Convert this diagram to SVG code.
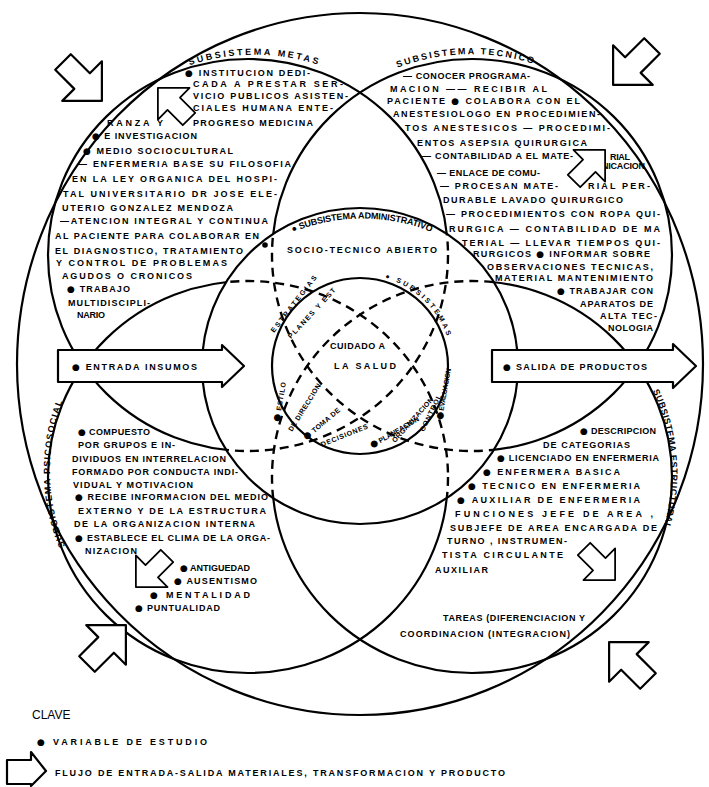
<svg xmlns="http://www.w3.org/2000/svg" width="709" height="787" viewBox="0 0 709 787">
<defs>
<style>
.ln{fill:none;stroke:#000;stroke-width:2.2}
.ds{fill:none;stroke:#000;stroke-width:2.4;stroke-dasharray:9 6}
.t{font-family:"Liberation Sans",Arial,sans-serif;font-weight:bold;font-size:9px;fill:#000}
.s{font-size:7px}
.b{font-family:"DejaVu Sans",sans-serif;font-size:9px}
.arw{fill:#fff;stroke:#000;stroke-width:2.2;stroke-linejoin:round}
</style>
<polygon id="ar" points="0,-11 27,-11 27,-28 55,0 27,28 27,11 0,11"/>
<clipPath id="inA"><circle cx="360" cy="366" r="158"/></clipPath>
<mask id="outA" maskUnits="userSpaceOnUse" x="0" y="0" width="709" height="787"><rect width="709" height="787" fill="#fff"/><circle cx="360" cy="366" r="158" fill="#000"/></mask>
<path id="pMetas" d="M 182,68 A 206 206 0 0 1 322,66"/>
<path id="pTec" d="M 392,70 A 206 206 0 0 1 540,66"/>
<path id="pPsi" d="M 66,548 A 204 199 0 0 1 66,393"/>
<path id="pEst" d="M 652,389 A 204 200 0 0 1 662,533"/>
<path id="pAdm" d="M 291,233 A 183 183 0 0 1 436,234"/>
<path id="pSub" d="M 385,278 A 92 92 0 0 1 448,339"/>
</defs>

<g id="environment">
<ellipse class="ln" cx="360" cy="364" rx="343" ry="351"/>
</g>

<g id="connectors">
<g mask="url(#outA)">
<ellipse class="ln" cx="248" cy="255" rx="200" ry="196"/>
<ellipse class="ln" cx="472" cy="255" rx="200" ry="196"/>
<ellipse class="ln" cx="248" cy="477" rx="200" ry="196"/>
<ellipse class="ln" cx="472" cy="477" rx="200" ry="196"/>
</g>
<g clip-path="url(#inA)">
<ellipse class="ds" cx="248" cy="255" rx="200" ry="196"/>
<ellipse class="ds" cx="472" cy="255" rx="200" ry="196"/>
<ellipse class="ds" cx="248" cy="477" rx="200" ry="196"/>
<ellipse class="ds" cx="472" cy="477" rx="200" ry="196"/>
</g>
</g>

<g id="administrativo">
<circle class="ln" cx="360" cy="366" r="158"/>
<text class="t" font-size="8"><textPath href="#pAdm" startOffset="2" textLength="142" lengthAdjust="spacing">● SUBSISTEMA  ADMINISTRATIVO</textPath></text>
<text class="t" font-size="8.5" x="287" y="253" textLength="150" lengthAdjust="spacing">SOCIO-TECNICO  ABIERTO</text>
<circle cx="265" cy="245" r="2.8"/>
</g>

<g id="cuidado">
<circle class="ln" cx="360" cy="366" r="88"/>
<text class="t" font-size="9.5" x="330" y="349" textLength="55" lengthAdjust="spacing">CUIDADO A</text>
<text class="t" font-size="9.5" x="334" y="369" textLength="62" lengthAdjust="spacing">LA  SALUD</text>
<text class="t s"><textPath href="#pSub" textLength="88" lengthAdjust="spacing">● SUBSISTEMAS</textPath></text>
<text class="t s" transform="translate(274,333) rotate(-52)" textLength="70" lengthAdjust="spacing">ESTRATEGIAS</text>
<text class="t s" transform="translate(291,339) rotate(-47)" textLength="66" lengthAdjust="spacing">PLANES Y EST</text>
<text class="t s" transform="translate(279,422) rotate(-80)" textLength="40" lengthAdjust="spacing"><tspan class="b">●</tspan> ESTILO</text>
<text class="t s" transform="translate(292,432) rotate(-58)" textLength="55" lengthAdjust="spacing">DE DIRECCION</text>
<text class="t s" transform="translate(306,440) rotate(-40)" textLength="45" lengthAdjust="spacing"><tspan class="b">●</tspan> TOMA DE</text>
<text class="t s" transform="translate(322,447) rotate(-22)" textLength="50" lengthAdjust="spacing">DECISIONES</text>
<text class="t s" transform="translate(372,448) rotate(-30)" textLength="55" lengthAdjust="spacing"><tspan class="b">●</tspan> PLANEACION</text>
<text class="t s" transform="translate(395,443) rotate(-48)" textLength="58" lengthAdjust="spacing">ORGANIZACION</text>
<text class="t s" transform="translate(424,432) rotate(-64)" textLength="40" lengthAdjust="spacing">CONTROL</text>
<text class="t s" transform="translate(442,420) rotate(-80)" textLength="52" lengthAdjust="spacing"><tspan class="b">●</tspan> EVALUACION</text>
</g>

<g id="metas">
<text class="t"><textPath href="#pMetas" startOffset="8" textLength="130" lengthAdjust="spacing">SUBSISTEMA    METAS</textPath></text>
<text class="t" x="185" y="76" textLength="125" lengthAdjust="spacing"><tspan class="b">●</tspan> INSTITUCION DEDI-</text>
<text class="t" x="193" y="87" textLength="150" lengthAdjust="spacing">CADA A PRESTAR SER-</text>
<text class="t" x="193" y="99" textLength="155" lengthAdjust="spacing">VICIO PUBLICOS ASISTEN-</text>
<text class="t" x="193" y="111" textLength="140" lengthAdjust="spacing">CIALES HUMANA ENTE-</text>
<text class="t" x="107" y="126" textLength="56" lengthAdjust="spacing">RANZA  Y</text>
<text class="t" x="193" y="126" textLength="120" lengthAdjust="spacing">PROGRESO MEDICINA</text>
<text class="t" x="92" y="139" textLength="105" lengthAdjust="spacing"><tspan class="b">●</tspan> E INVESTIGACION</text>
<text class="t" x="83" y="154" textLength="150" lengthAdjust="spacing"><tspan class="b">●</tspan> MEDIO  SOCIOCULTURAL</text>
<text class="t" x="78" y="167" textLength="213" lengthAdjust="spacing">— ENFERMERIA BASE SU FILOSOFIA</text>
<text class="t" x="72" y="182" textLength="205" lengthAdjust="spacing">EN LA LEY ORGANICA DEL HOSPI-</text>
<text class="t" x="63" y="197" textLength="214" lengthAdjust="spacing">TAL UNIVERSITARIO DR JOSE ELE-</text>
<text class="t" x="62" y="211" textLength="171" lengthAdjust="spacing">UTERIO GONZALEZ MENDOZA</text>
<text class="t" x="60" y="224" textLength="208" lengthAdjust="spacing">—ATENCION INTEGRAL Y CONTINUA</text>
<text class="t" x="55" y="239" textLength="204" lengthAdjust="spacing">AL PACIENTE PARA COLABORAR EN</text>
<text class="t" x="55" y="254" textLength="188" lengthAdjust="spacing">EL DIAGNOSTICO, TRATAMIENTO</text>
<text class="t" x="56" y="266" textLength="171" lengthAdjust="spacing">Y CONTROL DE PROBLEMAS</text>
<text class="t" x="62" y="279" textLength="130" lengthAdjust="spacing">AGUDOS O CRONICOS</text>
<text class="t" x="67" y="292" textLength="63" lengthAdjust="spacing"><tspan class="b">●</tspan> TRABAJO</text>
<text class="t" x="68" y="306" textLength="82" lengthAdjust="spacing">MULTIDISCIPLI-</text>
<text class="t" x="77" y="318" textLength="28" lengthAdjust="spacing">NARIO</text>
</g>

<g id="tecnico">
<text class="t"><textPath href="#pTec" startOffset="6" textLength="138" lengthAdjust="spacing">SUBSISTEMA   TECNICO</textPath></text>
<text class="t" x="403" y="79" textLength="127" lengthAdjust="spacing">— CONOCER PROGRAMA-</text>
<text class="t" x="390" y="92" textLength="157" lengthAdjust="spacing">MACION —— RECIBIR AL</text>
<text class="t" x="387" y="104" textLength="193" lengthAdjust="spacing">PACIENTE  <tspan class="b">●</tspan> COLABORA CON EL</text>
<text class="t" x="393" y="117" textLength="207" lengthAdjust="spacing">ANESTESIOLOGO EN PROCEDIMIEN-</text>
<text class="t" x="405" y="131" textLength="205" lengthAdjust="spacing">TOS ANESTESICOS — PROCEDIMI-</text>
<text class="t" x="417" y="146" textLength="170" lengthAdjust="spacing">ENTOS ASEPSIA QUIRURGICA</text>
<text class="t" x="422" y="159" textLength="151" lengthAdjust="spacing">— CONTABILIDAD A EL MATE-</text>
<text class="t" x="610" y="160" textLength="20" lengthAdjust="spacing">RIAL</text>
<text class="t" x="437" y="176" textLength="103" lengthAdjust="spacing">— ENLACE DE COMU-</text>
<text class="t" x="602" y="169" textLength="43" lengthAdjust="spacing">NICACION</text>
<text class="t" x="440" y="189" textLength="118" lengthAdjust="spacing">— PROCESAN MATE-</text>
<text class="t" x="588" y="189" textLength="62" lengthAdjust="spacing">RIAL  PER-</text>
<text class="t" x="443" y="203" textLength="180" lengthAdjust="spacing">DURABLE LAVADO QUIRURGICO</text>
<text class="t" x="446" y="217" textLength="214" lengthAdjust="spacing">— PROCEDIMIENTOS CON ROPA QUI-</text>
<text class="t" x="449" y="232" textLength="211" lengthAdjust="spacing">RURGICA — CONTABILIDAD DE MA</text>
<text class="t" x="462" y="246" textLength="198" lengthAdjust="spacing">TERIAL — LLEVAR TIEMPOS QUI-</text>
<text class="t" x="473" y="257" textLength="177" lengthAdjust="spacing">RURGICOS <tspan class="b">●</tspan> INFORMAR SOBRE</text>
<text class="t" x="487" y="270" textLength="166" lengthAdjust="spacing">OBSERVACIONES TECNICAS,</text>
<text class="t" x="495" y="281" textLength="158" lengthAdjust="spacing">MATERIAL MANTENIMIENTO</text>
<text class="t" x="557" y="294" textLength="96" lengthAdjust="spacing"><tspan class="b">●</tspan> TRABAJAR CON</text>
<text class="t" x="580" y="307" textLength="73" lengthAdjust="spacing">APARATOS DE</text>
<text class="t" x="600" y="319" textLength="57" lengthAdjust="spacing">ALTA TEC-</text>
<text class="t" x="608" y="331" textLength="45" lengthAdjust="spacing">NOLOGIA</text>
</g>

<g id="psicosocial">
<text class="t" font-size="8.5"><textPath href="#pPsi" startOffset="2" textLength="148" lengthAdjust="spacing">SUBSISTEMA  PSICOSOCIAL</textPath></text>
<text class="t" x="78" y="435" textLength="72" lengthAdjust="spacing"><tspan class="b">●</tspan> COMPUESTO</text>
<text class="t" x="78" y="448" textLength="97" lengthAdjust="spacing">POR GRUPOS E IN-</text>
<text class="t" x="72" y="462" textLength="154" lengthAdjust="spacing">DIVIDUOS EN INTERRELACION</text>
<text class="t" x="72" y="475" textLength="166" lengthAdjust="spacing">FORMADO POR CONDUCTA INDI-</text>
<text class="t" x="73" y="488" textLength="120" lengthAdjust="spacing">VIDUAL Y MOTIVACION</text>
<text class="t" x="75" y="500" textLength="193" lengthAdjust="spacing"><tspan class="b">●</tspan> RECIBE INFORMACION DEL MEDIO</text>
<text class="t" x="78" y="514" textLength="188" lengthAdjust="spacing">EXTERNO Y DE LA ESTRUCTURA</text>
<text class="t" x="74" y="527" textLength="181" lengthAdjust="spacing">DE LA ORGANIZACION INTERNA</text>
<text class="t" x="75" y="541" textLength="195" lengthAdjust="spacing"><tspan class="b">●</tspan> ESTABLECE EL CLIMA DE LA ORGA-</text>
<text class="t" x="85" y="554" textLength="52" lengthAdjust="spacing">NIZACION</text>
<text class="t" x="180" y="571" textLength="70" lengthAdjust="spacing"><tspan class="b">●</tspan> ANTIGUEDAD</text>
<text class="t" x="174" y="584" textLength="83" lengthAdjust="spacing"><tspan class="b">●</tspan> AUSENTISMO</text>
<text class="t" x="150" y="598" textLength="100" lengthAdjust="spacing"><tspan class="b">●</tspan> MENTALIDAD</text>
<text class="t" x="135" y="611" textLength="85" lengthAdjust="spacing"><tspan class="b">●</tspan> PUNTUALIDAD</text>
</g>

<g id="estructural">
<text class="t"><textPath href="#pEst" startOffset="2" textLength="140" lengthAdjust="spacing">SUBSISTEMA  ESTRUCTURAL</textPath></text>
<text class="t" x="580" y="434" textLength="76" lengthAdjust="spacing"><tspan class="b">●</tspan> DESCRIPCION</text>
<text class="t" x="543" y="448" textLength="87" lengthAdjust="spacing">DE CATEGORIAS</text>
<text class="t" x="497" y="461" textLength="162" lengthAdjust="spacing"><tspan class="b">●</tspan> LICENCIADO EN ENFERMERIA</text>
<text class="t" x="483" y="475" textLength="137" lengthAdjust="spacing"><tspan class="b">●</tspan> ENFERMERA BASICA</text>
<text class="t" x="468" y="489" textLength="172" lengthAdjust="spacing"><tspan class="b">●</tspan> TECNICO EN ENFERMERIA</text>
<text class="t" x="457" y="503" textLength="183" lengthAdjust="spacing"><tspan class="b">●</tspan> AUXILIAR DE ENFERMERIA</text>
<text class="t" x="455" y="517" textLength="198" lengthAdjust="spacing">FUNCIONES    JEFE DE AREA ,</text>
<text class="t" x="450" y="531" textLength="207" lengthAdjust="spacing">SUBJEFE DE AREA ENCARGADA DE</text>
<text class="t" x="447" y="544" textLength="120" lengthAdjust="spacing">TURNO , INSTRUMEN-</text>
<text class="t" x="442" y="558" textLength="121" lengthAdjust="spacing">TISTA CIRCULANTE</text>
<text class="t" x="435" y="573" textLength="53" lengthAdjust="spacing">AUXILIAR</text>
<text class="t" x="443" y="621" textLength="142" lengthAdjust="spacing">TAREAS (DIFERENCIACION Y</text>
<text class="t" x="400" y="637" textLength="170" lengthAdjust="spacing">COORDINACION (INTEGRACION)</text>
</g>

<g id="entrada">
<polygon class="arw" points="58,350 222,350 222,345 244,366 222,387 222,382 58,382"/>
<text class="t" x="72" y="370" textLength="125" lengthAdjust="spacing"><tspan class="b">●</tspan> ENTRADA   INSUMOS</text>
</g>

<g id="salida">
<polygon class="arw" points="492,350 673,350 673,344 696,366 673,388 673,382 492,382"/>
<text class="t" x="503" y="370" textLength="144" lengthAdjust="spacing"><tspan class="b">●</tspan> SALIDA  DE  PRODUCTOS</text>
</g>

<g id="flechas-entorno">
<use href="#ar" class="arw" transform="translate(63,62) rotate(45)"/>
<use href="#ar" class="arw" transform="translate(652,46) rotate(135)"/>
<use href="#ar" class="arw" transform="translate(87,664) rotate(-45)"/>
<use href="#ar" class="arw" transform="translate(648,681) rotate(-135)"/>
<use href="#ar" class="arw" transform="translate(189,119) rotate(-135) scale(0.8)"/>
<use href="#ar" class="arw" transform="translate(574,181) rotate(-45) scale(0.8)"/>
<use href="#ar" class="arw" transform="translate(167,556) rotate(135) scale(0.8)"/>
<use href="#ar" class="arw" transform="translate(584,549) rotate(45) scale(0.8)"/>
</g>

<g id="clave">
<text x="32" y="719" font-family="Liberation Sans, Arial, sans-serif" font-size="12" fill="#000">CLAVE</text>
<text class="t" x="37" y="745" font-size="7.5" textLength="170" lengthAdjust="spacing"><tspan class="b">●</tspan>  VARIABLE   DE   ESTUDIO</text>
<polygon class="arw" points="7,760 31,760 31,752 46,771 31,786 31,784 7,784"/>
<text class="t" x="55" y="776" font-size="7.5" textLength="450" lengthAdjust="spacing">FLUJO  DE  ENTRADA-SALIDA  MATERIALES,  TRANSFORMACION  Y  PRODUCTO</text>
</g>
</svg>
